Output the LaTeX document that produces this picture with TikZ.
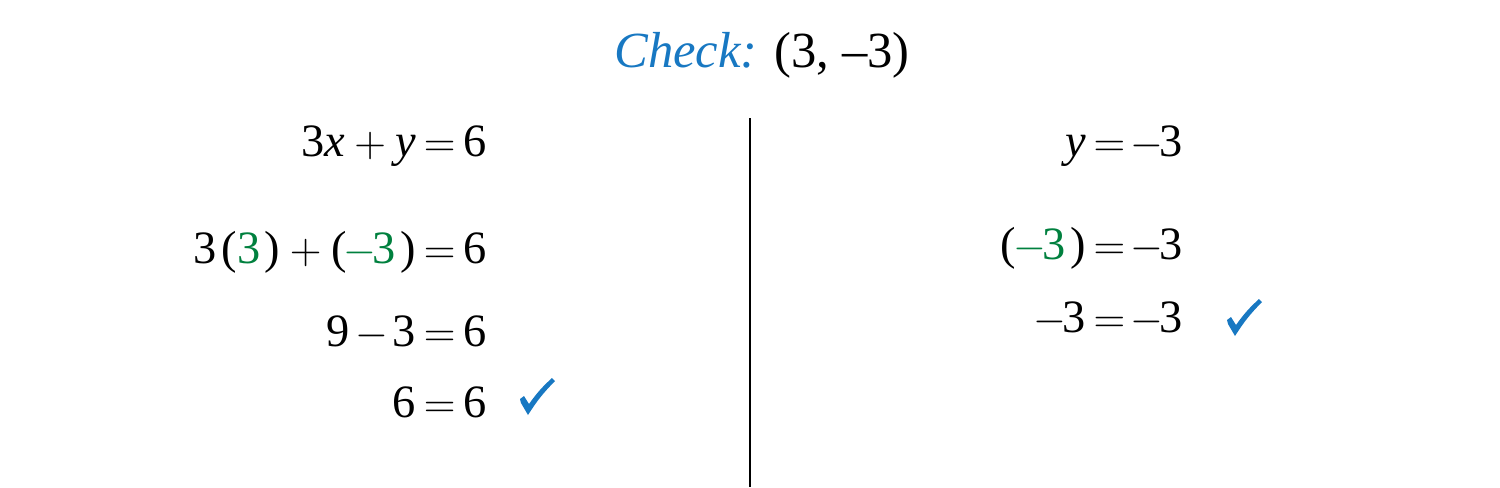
\documentclass[tikz,border=0pt]{standalone}
\usepackage{fontspec}
\setmainfont{Liberation Serif}
\usepackage{xcolor}
\definecolor{checkblue}{RGB}{24,120,194}
\definecolor{subgreen}{RGB}{0,128,62}
\newcommand{\sub}[1]{\textcolor{subgreen}{#1}}
\newcommand{\var}[1]{\textit{#1}}
\newcommand{\opeq}{\hspace{0.16em}\(=\)\hspace{0.16em}}
\newcommand{\opplus}{\hspace{0.2em}\(+\)\hspace{0.2em}}
\newcommand{\opminus}{\hspace{0.11em}\(-\)\hspace{0.11em}}
\newcommand{\negsign}{\hspace{-0.06em}\(-\)\hspace{-0.08em}}
\newcommand{\gap}{\hspace{0.1em}}
\tikzset{%
  eqline/.style   = {anchor=base east, inner sep=0pt, font=\fontsize{13.2}{15}\selectfont},%
  heading/.style  = {anchor=base, inner sep=0pt, font=\fontsize{14.4}{17}\selectfont},%
  tickmark/.pic   = {\fill [checkblue] (-0.17,-0.02) -- (-0.13,0.01) -- (-0.08,-0.07)
                       to[bend left=6] (0.15,0.19) -- (0.18,0.16)
                       to[bend right=6] (-0.09,-0.18) -- (-0.16,-0.06) -- cycle;}%
}

\begin{document}
\begin{tikzpicture}
	\useasboundingbox (0,0) rectangle (15,-4.87);
		% title
		\node [heading] (title) at (7.62,-0.67) {\textcolor{checkblue}{\textit{Check:}} (3, –3)};
		% divider
		\coordinate (divtop) at (7.5,-1.18);
		\coordinate (divbot) at (7.5,-4.87);
		\draw [line width=0.6pt] (divtop) -- (divbot);
		% left column
		\node [eqline] (l1) at (4.87,-1.56) {3\var{x}\opplus\var{y}\opeq6};
		\node [eqline] (l2) at (4.87,-2.63) {3\gap(\sub{3}\gap)\opplus(\sub{\negsign3}\gap)\opeq6};
		\node [eqline] (l3) at (4.87,-3.46) {9\opminus3\opeq6};
		\node [eqline] (l4) at (4.87,-4.17) {6\opeq6};
		\coordinate (lcheck) at (5.37,-3.97);
		\pic at (lcheck) {tickmark};
		% right column
		\node [eqline] (r1) at (11.83,-1.56) {\var{y}\opeq\negsign3};
		\node [eqline] (r2) at (11.83,-2.59) {(\sub{\negsign3}\gap)\opeq\negsign3};
		\node [eqline] (r3) at (11.83,-3.32) {\negsign3\opeq\negsign3};
		\coordinate (rcheck) at (12.44,-3.18);
		\pic at (rcheck) {tickmark};
\end{tikzpicture}
\end{document}
